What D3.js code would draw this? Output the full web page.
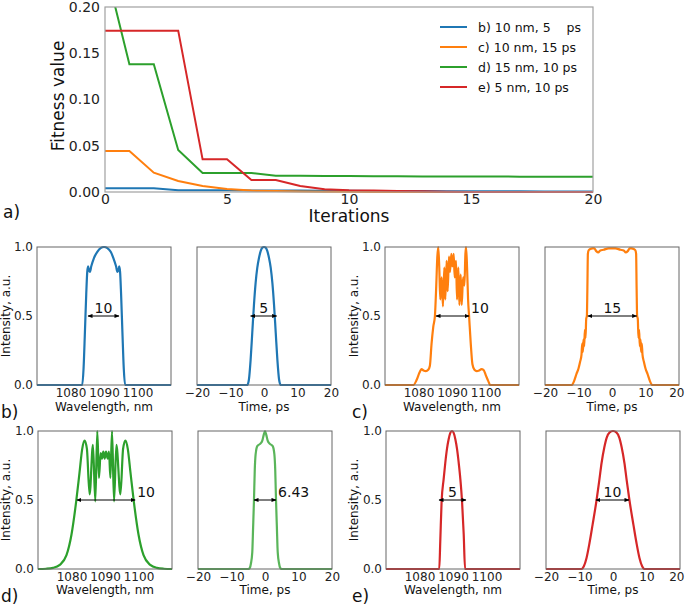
<!DOCTYPE html>
<html><head><meta charset="utf-8">
<script src="https://cdn.jsdelivr.net/npm/d3@7"></script>
<style>
body{margin:0;background:#fff}
svg{display:block;font-family:"DejaVu Sans",Verdana,sans-serif}
</style>
</head><body>
<svg id="chart" width="685" height="607"></svg>
<script>
// ---------- data: panel a) fitness vs iterations ----------
const iterations = [0,1,2,3,4,5,6,7,8,9,10,11,12,13,14,15,16,17,18,19,20];
const fitB = [0.004,0.004,0.004,0.002,0.0019,0.0018,0.0017,0.0016,0.0015,0.0014,0.0013,0.0012,0.0011,0.001,0.0009,0.0008,0.0007,0.0007,0.0006,0.0006,0.0005];
const fitC = [0.0443,0.0443,0.0209,0.0119,0.0065,0.0032,0.0015,0.001,0.0005,0.0003,0.0002,0.0001,0,0,0,0,0,0,0,0,0];
const fitD = [0.245,0.138,0.138,0.0454,0.0205,0.0205,0.0205,0.0177,0.0175,0.0174,0.0172,0.017,0.0169,0.0168,0.0168,0.0167,0.0167,0.0166,0.0166,0.0166,0.0166];
const fitE = [0.1744,0.1744,0.1744,0.1744,0.0353,0.0353,0.013,0.013,0.0065,0.003,0.002,0.0017,0.0012,0.0008,0.0004,0.0001,0,0,0,0,0];
const legendLabels = ["b) 10 nm, 5\u00a0\u00a0\u00a0\u00a0ps","c) 10 nm, 15 ps","d) 15 nm, 10 ps","e) 5 nm, 10 ps"];
const seriesColors = ["#1f77b4","#ff7f0e","#2ca02c","#d62728"];
const fitTicksX = [0,5,10,15,20];
const fitTicksY = [0,0.05,0.10,0.15,0.20];

// ---------- data: spectra (wavelength nm, intensity) ----------
const specB = [[1070,0],[1083.5,0],[1083.9,0.12],[1084.3,0.38],[1084.7,0.66],[1085.0,0.82],[1085.25,0.86],[1085.5,0.83],[1085.8,0.82],[1086.2,0.86],[1087,0.92],[1088,0.965],[1089,0.992],[1090,1.0],[1091,0.992],[1092,0.965],[1092.8,0.92],[1093.6,0.86],[1094.0,0.82],[1094.3,0.83],[1094.55,0.86],[1094.8,0.82],[1095.1,0.66],[1095.5,0.38],[1095.9,0.12],[1096.3,0],[1110,0]];
const specC = [[1070,0],[1078.5,0],[1079.5,0.04],[1080.3,0.09],[1080.9,0.115],[1081.5,0.105],[1082.2,0.1],[1082.9,0.11],[1083.4,0.14],[1083.9,0.3],[1084.4,0.42],[1084.9,0.5],[1085.3,0.72],[1085.6,0.92],[1085.9,1.0],[1086.2,0.85],[1086.5,0.62],[1086.9,0.78],[1087.3,0.57],[1087.7,0.85],[1088.0,0.62],[1088.4,0.9],[1088.7,0.68],[1089.1,0.93],[1089.4,0.82],[1089.8,0.95],[1090.1,0.86],[1090.5,0.95],[1090.8,0.78],[1091.2,0.9],[1091.5,0.62],[1091.9,0.85],[1092.2,0.58],[1092.6,0.8],[1092.9,0.58],[1093.3,0.78],[1093.7,0.72],[1094.0,0.95],[1094.2,1.0],[1094.5,0.85],[1094.8,0.62],[1095.1,0.5],[1095.6,0.3],[1096.1,0.15],[1096.7,0.11],[1097.4,0.1],[1098.1,0.105],[1098.8,0.115],[1099.4,0.11],[1100.1,0.07],[1100.8,0.03],[1101.4,0],[1110,0]];
const specD = [[1070,0],[1072.5,0.002],[1074.5,0.008],[1076.5,0.03],[1078.5,0.1],[1080,0.25],[1081.4,0.49],[1082.4,0.7],[1083.2,0.87],[1083.9,0.93],[1084.6,0.87],[1085.4,0.54],[1086.4,0.9],[1087.1,0.49],[1087.7,1.0],[1088.2,0.66],[1088.7,0.84],[1089.1,0.8],[1089.5,0.85],[1089.9,0.8],[1090.3,0.85],[1090.8,0.8],[1091.2,0.85],[1091.6,0.66],[1092.1,1.0],[1092.7,0.49],[1093.4,0.9],[1094.6,0.54],[1095.4,0.87],[1096.1,0.93],[1096.8,0.87],[1097.6,0.7],[1098.6,0.49],[1100,0.25],[1101.5,0.1],[1103.5,0.03],[1105.5,0.008],[1107.5,0.002],[1110,0]];
const specE = [[1070,0],[1085.9,0],[1086.2,0.2],[1086.6,0.49],[1087.2,0.65],[1087.7,0.77],[1088.2,0.87],[1088.7,0.94],[1089.2,0.986],[1089.7,1.0],[1090.2,0.986],[1090.7,0.94],[1091.2,0.87],[1091.7,0.77],[1092.2,0.65],[1092.7,0.49],[1093.2,0.25],[1093.6,0],[1110,0]];

// ---------- data: temporal profiles (time ps, intensity) ----------
const timeB = [[-20,0],[-5,0],[-4.5,0.04],[-4,0.18],[-3.5,0.38],[-3,0.58],[-2.5,0.74],[-2,0.85],[-1.5,0.92],[-1,0.97],[-0.5,0.995],[0,1],[0.5,0.995],[1,0.97],[1.5,0.92],[2,0.85],[2.5,0.74],[3,0.58],[3.5,0.38],[4,0.18],[4.5,0.04],[5,0],[20,0]];
const timeC = [[-20,0],[-12,0],[-11.3,0.03],[-10.6,0.08],[-10,0.12],[-9.5,0.17],[-9.1,0.22],[-8.9,0.3],[-8.7,0.24],[-8.5,0.33],[-8.3,0.28],[-8.1,0.4],[-7.9,0.34],[-7.7,0.48],[-7.5,0.5],[-7.35,0.7],[-7.2,0.95],[-7.0,0.975],[-6.5,0.985],[-5.8,0.99],[-5.3,0.99],[-4.7,0.97],[-4.1,0.96],[-3.5,0.975],[-2.5,0.98],[-1,0.99],[0,0.99],[1,0.99],[2.5,0.98],[3.5,0.975],[4.1,0.96],[4.7,0.97],[5.3,0.99],[5.8,0.99],[6.5,0.985],[7.0,0.975],[7.2,0.95],[7.35,0.7],[7.5,0.5],[7.7,0.48],[7.9,0.34],[8.1,0.4],[8.3,0.28],[8.5,0.33],[8.7,0.24],[8.9,0.3],[9.1,0.22],[9.5,0.17],[10,0.12],[10.6,0.08],[11.3,0.03],[12,0],[20,0]];
const timeD = [[-20,0],[-5,0],[-4.5,0.01],[-4.2,0.04],[-3.8,0.12],[-3.55,0.3],[-3.3,0.49],[-3.05,0.72],[-2.8,0.83],[-2.3,0.89],[-1.3,0.91],[-0.8,0.93],[-0.4,0.97],[0,1.0],[0.4,0.97],[0.8,0.93],[1.3,0.91],[2.3,0.89],[2.8,0.83],[3.05,0.72],[3.3,0.49],[3.55,0.3],[3.8,0.12],[4.2,0.04],[4.5,0.01],[5,0],[20,0]];
const timeE = [[-20,0],[-9.4,0],[-8.7,0.02],[-7.9,0.08],[-7,0.19],[-6.1,0.32],[-4.9,0.5],[-4.1,0.64],[-3.4,0.77],[-2.6,0.88],[-1.9,0.95],[-1,0.99],[0,1],[1,0.99],[1.9,0.95],[2.6,0.88],[3.4,0.77],[4.1,0.64],[4.9,0.5],[6.1,0.32],[7,0.19],[7.9,0.08],[8.7,0.02],[9.4,0],[20,0]];

// ---------- data: FWHM annotations ----------
const arrowSpans = [[1085.2,1094.5],[-4.0,3.8],[1085.2,1095.1],[-7.2,7.4],[1081.6,1099.0],[-3.3,3.3],[1085.8,1093.9],[-5.1,4.8]];
const arrowTexts = ["10","5","10","15","10","6.43","5","10"];
const wlDomain = [1070,1110], wlTicks = [1080,1090,1100];
const tDomain = [-20,20], tTicks = [-20,-10,0,10,20];
const intTicks = [0,0.5,1.0];

// ================= drawing =================
const W = 685;
const svg = d3.select("#chart");
const defs = svg.append("defs");
defs.append("marker").attr("id","ah").attr("viewBox","0 -3 6 6")
  .attr("refX",5.5).attr("refY",0).attr("markerWidth",5).attr("markerHeight",5)
  .attr("markerUnits","userSpaceOnUse").attr("orient","auto-start-reverse")
  .append("path").attr("d","M0,-2.5L6,0L0,2.5Z").attr("fill","#000");

// ---- panel a ----
const A = {l:105, r:593, t:7, b:192};
const xa = d3.scaleLinear().domain([0,20]).range([A.l,A.r]);
const ya = d3.scaleLinear().domain([0,0.2]).range([A.b,A.t]);
defs.append("clipPath").attr("id","clipA").append("rect")
  .attr("x",A.l).attr("y",A.t).attr("width",A.r-A.l).attr("height",A.b-A.t+2);
const ga = svg.append("g");
const fits = [fitB,fitC,fitD,fitE];
const lineA = d3.line().x((d,i)=>xa(iterations[i])).y(d=>ya(d));
fits.forEach((s,i)=>{
  ga.append("path").attr("d",lineA(s)).attr("fill","none")
    .attr("stroke",seriesColors[i]).attr("stroke-width",2).attr("clip-path","url(#clipA)");
});
ga.append("rect").attr("x",A.l).attr("y",A.t).attr("width",A.r-A.l).attr("height",A.b-A.t)
  .attr("fill","none").attr("stroke","#a0a0a0").attr("stroke-width",1.2);
const axA = svg.append("g").attr("transform",`translate(0,${A.b})`)
  .call(d3.axisBottom(xa).tickValues(fitTicksX).tickFormat(d3.format("d")).tickSize(0).tickPadding(2));
axA.select(".domain").remove();
axA.selectAll("text").attr("font-size",14).attr("fill","#222").attr("font-family","DejaVu Sans");
const ayA = svg.append("g").attr("transform",`translate(${A.l},0)`)
  .call(d3.axisLeft(ya).tickValues(fitTicksY).tickFormat(d3.format(".2f")).tickSize(0).tickPadding(5));
ayA.select(".domain").remove();
ayA.selectAll("text").attr("font-size",14).attr("fill","#222").attr("font-family","DejaVu Sans");
svg.append("text").attr("transform","translate(64,96) rotate(-90)").attr("text-anchor","middle")
  .attr("font-size",17).attr("fill","#111").text("Fitness value");
svg.append("text").attr("x",349).attr("y",222).attr("text-anchor","middle")
  .attr("font-size",17).attr("fill","#111").text("Iterations");
svg.append("text").attr("x",3).attr("y",218).attr("font-size",17).attr("fill","#111").text("a)");
// legend
const leg = svg.append("g");
legendLabels.forEach((t,i)=>{
  const y = 27 + i*20;
  leg.append("line").attr("x1",440).attr("x2",467).attr("y1",y).attr("y2",y)
    .attr("stroke",seriesColors[i]).attr("stroke-width",2);
  leg.append("text").attr("x",478).attr("y",y+4.5).attr("font-size",12.5).attr("fill","#111").text(t);
});

// ---- small panels ----
const panels = [
  {l:37,r:171,t:247,b:385,kind:"wl",data:specB,c:0},
  {l:197,r:331,t:247,b:385,kind:"t",data:timeB,c:0},
  {l:385,r:519,t:247,b:385,kind:"wl",data:specC,c:1},
  {l:545,r:679,t:247,b:385,kind:"t",data:timeC,c:1},
  {l:38,r:172,t:431,b:569,kind:"wl",data:specD,c:2},
  {l:198,r:332,t:431,b:569,kind:"t",data:timeD,c:2,op:0.78},
  {l:386,r:520,t:431,b:569,kind:"wl",data:specE,c:3},
  {l:546,r:680,t:431,b:569,kind:"t",data:timeE,c:3}
];
const labelStart = [false,false,true,false,true,true,false,false];

panels.forEach((p,i)=>{
  const g = svg.append("g");
  const x = d3.scaleLinear().domain(p.kind==="wl"?wlDomain:tDomain).range([p.l,p.r]);
  const y = d3.scaleLinear().domain([0,1]).range([p.b,p.t]);
  const line = d3.line().x(d=>x(d[0])).y(d=>y(d[1])).curve(d3.curveMonotoneX);
  const cid = "clipP"+i;
  defs.append("clipPath").attr("id",cid).append("rect")
    .attr("x",p.l).attr("y",p.t-1.5).attr("width",p.r-p.l).attr("height",p.b-p.t+2.5);
  g.append("path").attr("d",line(p.data)).attr("fill","none")
    .attr("stroke",seriesColors[p.c]).attr("stroke-width",2.2)
    .attr("stroke-opacity",p.op||1).attr("stroke-linejoin","round")
    .attr("clip-path",`url(#${cid})`);
  g.append("rect").attr("x",p.l).attr("y",p.t).attr("width",p.r-p.l).attr("height",p.b-p.t)
    .attr("fill","none").attr("stroke","#666").attr("stroke-width",1);
  // axes
  const ax = g.append("g").attr("transform",`translate(0,${p.b})`)
    .call(d3.axisBottom(x).tickValues(p.kind==="wl"?wlTicks:tTicks).tickFormat(d3.format("d")).tickSize(0).tickPadding(3));
  ax.select(".domain").remove();
  ax.selectAll("text").attr("font-size",12).attr("fill","#222").attr("font-family","DejaVu Sans");
  // keep the right-most tick label inside the picture
  if (p.r + 8 > W) {
    ax.selectAll(".tick").filter(d=>d===tDomain[1]).select("text")
      .attr("text-anchor","end").attr("x",W - 1 - p.r);
  }
  if (p.kind==="wl") {
    const ay = g.append("g").attr("transform",`translate(${p.l},0)`)
      .call(d3.axisLeft(y).tickValues(intTicks).tickFormat(d3.format(".1f")).tickSize(0).tickPadding(4));
    ay.select(".domain").remove();
    ay.selectAll("text").attr("font-size",12).attr("fill","#222").attr("font-family","DejaVu Sans");
    const yl = p.l < 200 ? 10 : 358;
    g.append("text").attr("transform",`translate(${yl},${(p.t+p.b)/2}) rotate(-90)`)
      .attr("text-anchor","middle").attr("font-size",12).attr("fill","#111").text("Intensity, a.u.");
  }
  g.append("text").attr("x",(p.l+p.r)/2).attr("y",p.b+(p.b<400?26:25)).attr("text-anchor","middle")
    .attr("font-size",12).attr("fill","#111").text(p.kind==="wl"?"Wavelength, nm":"Time, ps");
  // FWHM arrow
  const sp = arrowSpans[i];
  g.append("line").attr("x1",x(sp[0])).attr("x2",x(sp[1])).attr("y1",y(0.5)).attr("y2",y(0.5))
    .attr("stroke","#000").attr("stroke-width",1)
    .attr("marker-start","url(#ah)").attr("marker-end","url(#ah)");
  if (labelStart[i]) {
    g.append("text").attr("x",x(sp[1])+2).attr("y",y(0.5)-3).attr("font-size",14)
      .attr("fill","#111").text(arrowTexts[i]);
  } else {
    g.append("text").attr("x",(x(sp[0])+x(sp[1]))/2).attr("y",y(0.5)-3).attr("text-anchor","middle")
      .attr("font-size",14).attr("fill","#111").text(arrowTexts[i]);
  }
});
// row letters
[["b)",1,418],["c)",352,418],["d)",1,602],["e)",352,602]].forEach(d=>{
  svg.append("text").attr("x",d[1]).attr("y",d[2]).attr("font-size",17).attr("fill","#111").text(d[0]);
});
</script>
</body></html>
